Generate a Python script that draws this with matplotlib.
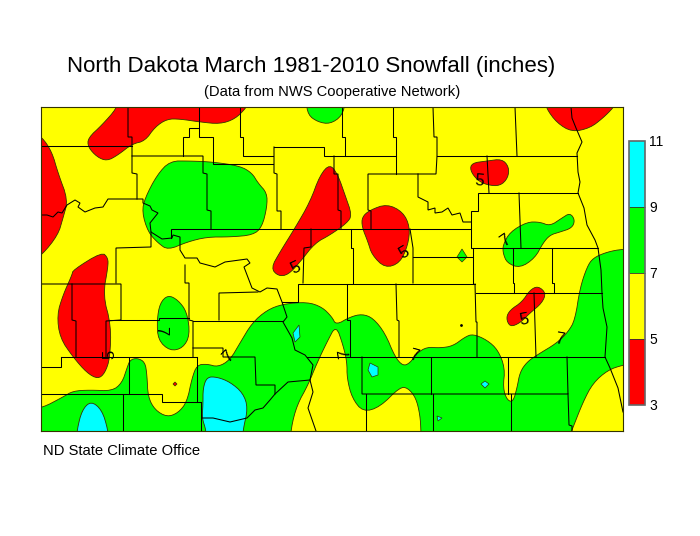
import matplotlib
matplotlib.use('Agg')
import matplotlib.pyplot as plt
from matplotlib.cm import ScalarMappable
from matplotlib.colors import BoundaryNorm, ListedColormap
from matplotlib.patches import Polygon

plt.rcParams['font.family'] = ['Liberation Sans', 'DejaVu Sans']

RED, YELLOW, GREEN, CYAN = '#ff0000', '#ffff00', '#00ff00', '#00ffff'
levels = [3, 5, 7, 9, 11]
level_colors = [RED, YELLOW, GREEN, CYAN]

# snowfall areas, map coordinates
green_south = [(30, 408), (42, 408), (63, 397), (73, 391), (90, 390), (112, 391), (122, 383), (127, 368),
               (130, 360), (137, 358), (145, 362), (147, 375), (148, 397), (155, 410), (167, 417), (178, 413),
               (187, 402), (192, 378), (197, 365), (207, 364), (218, 367), (230, 360), (240, 343), (252, 323),
               (267, 310), (283, 304), (307, 302), (322, 307), (332, 317), (336, 325), (350, 317), (362, 314),
               (373, 318), (385, 333), (395, 357), (403, 366), (410, 363), (417, 353), (427, 347), (440, 348),
               (453, 346), (465, 337), (473, 334), (487, 340), (498, 350), (505, 368), (503, 388), (507, 400),
               (513, 402), (517, 388), (520, 372), (527, 362), (537, 355), (557, 343), (568, 332), (575, 320),
               (580, 288), (587, 267), (593, 258), (607, 252), (623, 249), (650, 249), (655, 260), (655, 435),
               (650, 445), (630, 445), (560, 445), (60, 445), (30, 445), (20, 440), (20, 415)]
yellow_tongue = [(336, 325), (327, 342), (317, 363), (308, 385), (297, 405), (291, 428), (290, 450), (421, 450),
                 (421, 431), (420, 415), (416, 398), (408, 388), (400, 387), (380, 407), (363, 412), (352, 398),
                 (347, 378), (347, 362), (343, 345)]
yellow_southeast = [(572, 430), (583, 402), (593, 383), (608, 370), (623, 365), (640, 362), (650, 445), (566, 445)]
green_northwest = [(145, 198), (157, 175), (170, 161), (190, 161), (213, 162), (240, 166), (252, 173), (258, 183),
                   (267, 193), (267, 207), (262, 227), (253, 235), (230, 237), (207, 237), (187, 242), (168, 250),
                   (158, 243), (148, 232), (142, 212)]
green_west = [(168, 295), (160, 303), (157, 320), (158, 340), (170, 351), (183, 348), (190, 335), (187, 312),
              (178, 300)]
green_northeast = [(503, 245), (510, 232), (527, 222), (540, 222), (550, 226), (562, 218), (570, 213), (575, 220),
                   (572, 228), (560, 232), (550, 235), (543, 243), (535, 258), (520, 268), (507, 263), (503, 253)]
green_top = [(306, 100), (308, 115), (318, 122), (330, 124), (342, 116), (346, 100)]
green_small = [(462, 249), (457, 257), (462, 262), (467, 257)]
red_north = [(117, 100), (117, 108), (102, 125), (88, 138), (88, 147), (97, 157), (107, 161), (118, 155),
             (132, 144), (145, 141), (155, 127), (167, 119), (180, 119), (200, 122), (220, 124), (235, 119),
             (246, 108), (250, 100)]
red_westedge = [(30, 130), (42, 137), (52, 152), (58, 173), (68, 200), (63, 218), (58, 235), (42, 255), (30, 262)]
red_ridge = [(330, 164), (320, 175), (310, 202), (295, 228), (280, 252), (271, 268), (278, 276), (288, 275),
             (300, 262), (315, 243), (330, 235), (347, 223), (352, 215), (345, 195), (338, 175)]
red_center = [(387, 204), (370, 210), (362, 217), (362, 227), (368, 242), (372, 255), (385, 268), (400, 263),
              (408, 245), (410, 227), (403, 212)]
red_northeast = [(546, 100), (546, 108), (557, 123), (572, 132), (590, 128), (603, 118), (613, 108), (618, 100)]
red_langdon = [(470, 170), (472, 163), (487, 161), (502, 159), (509, 167), (508, 178), (500, 186), (487, 185),
               (477, 180)]
red_southwest = [(102, 252), (73, 270), (72, 275), (63, 295), (57, 315), (60, 338), (73, 357), (87, 373), (98, 379),
                 (105, 373), (110, 358), (111, 325), (103, 295), (108, 267), (108, 258)]
red_east = [(538, 286), (530, 290), (522, 302), (510, 310), (506, 318), (510, 327), (520, 323), (530, 313),
            (542, 303), (546, 293)]
red_dot = [(175, 382), (173, 384), (175, 386), (177, 384)]
cyan_southwest = [(77, 440), (77, 430), (82, 410), (91, 401), (102, 410), (108, 430), (108, 440)]
cyan_south = [(207, 377), (203, 388), (203, 405), (202, 418), (206, 430), (206, 440), (243, 440), (243, 430),
              (248, 408), (243, 393), (230, 382), (217, 377)]
cyan_a = [(299, 325), (293, 333), (295, 342), (300, 337)]
cyan_b = [(370, 363), (378, 367), (378, 375), (372, 377), (368, 370)]
cyan_c = [(485, 381), (481, 384), (485, 388), (489, 384)]
cyan_d = [(437, 416), (442, 418), (438, 421)]

smooth_areas = [(green_south, GREEN), (yellow_tongue, YELLOW), (yellow_southeast, YELLOW),
                (green_northwest, GREEN), (green_west, GREEN), (green_northeast, GREEN), (green_top, GREEN),
                (red_north, RED), (red_westedge, RED), (red_ridge, RED), (red_center, RED), (red_northeast, RED),
                (red_langdon, RED), (red_southwest, RED), (red_east, RED), (cyan_southwest, CYAN), (cyan_south, CYAN)]
small_areas = [(green_small, GREEN), (red_dot, RED), (cyan_a, CYAN), (cyan_b, CYAN), (cyan_c, CYAN), (cyan_d, CYAN)]

# county lines and rivers
county_lines = [
    [(42, 146), (132, 146)],
    [(128, 107), (128, 137), (132, 137), (132, 173), (137, 174), (137, 199)],
    [(132, 156), (203, 156), (203, 173), (207, 174), (207, 210), (211, 211), (211, 229)],
    [(183, 156), (183, 137), (189, 137), (189, 128), (199, 128)],
    [(199, 107), (199, 137), (213, 137), (213, 164), (273, 164)],
    [(240, 107), (240, 137), (243, 137), (243, 156), (273, 156)],
    [(274, 147), (274, 173), (277, 174), (277, 211), (281, 211), (281, 229)],
    [(274, 147), (324, 147), (324, 156), (396, 156)],
    [(334, 156), (334, 174), (338, 174), (338, 210), (341, 211), (341, 229)],
    [(342, 107), (342, 137), (345, 137), (345, 156)],
    [(393, 107), (393, 137), (396, 137), (396, 174)],
    [(433, 107), (434, 137), (437, 137), (437, 156), (436, 174), (368, 174), (368, 210), (371, 211), (371, 229)],
    [(437, 156), (577, 156)],
    [(515, 107), (517, 156)],
    [(487, 156), (489, 193)],
    [(578, 193), (478, 193), (478, 211), (471, 211), (471, 248), (598, 248)],
    [(418, 174), (418, 197), (428, 202), (428, 210), (435, 208), (435, 213), (442, 212), (448, 208), (452, 215),
     (460, 213), (463, 222), (471, 222)],
    [(519, 193), (521, 248)],
    [(473, 248), (473, 284)],
    [(513, 248), (513, 283), (514, 283), (514, 293)],
    [(552, 248), (552, 283), (554, 283), (554, 293)],
    [(413, 257), (473, 257)],
    [(410, 229), (413, 248), (413, 283)],
    [(351, 229), (351, 248), (353, 248), (353, 283)],
    [(171, 238), (171, 229), (471, 229)],
    [(311, 229), (311, 247), (304, 248), (303, 283)],
    [(282, 302), (298, 302), (298, 284), (475, 284)],
    [(347, 284), (347, 320), (350, 320), (350, 357)],
    [(396, 284), (397, 320), (399, 321), (399, 357)],
    [(475, 284), (476, 322), (477, 322), (477, 357)],
    [(476, 293), (602, 293)],
    [(534, 293), (536, 357)],
    [(61, 357), (197, 357)],
    [(307, 357), (605, 357)],
    [(362, 357), (362, 394), (568, 394), (567, 357)],
    [(431, 357), (431, 394)],
    [(508, 357), (508, 394)],
    [(366, 394), (366, 431)],
    [(433, 394), (433, 431)],
    [(511, 394), (511, 431)],
    [(568, 394), (569, 425), (572, 426), (572, 431)],
    [(571, 107), (572, 118), (576, 128), (582, 142), (577, 153), (578, 172), (580, 182), (578, 193), (584, 208),
     (587, 225), (595, 240), (598, 248), (601, 270), (602, 293), (603, 308), (607, 327), (605, 357), (610, 368),
     (618, 388), (623, 412)],
    [(42, 215), (47, 215), (53, 217), (58, 212), (62, 213), (67, 205), (75, 200), (80, 203), (78, 207), (85, 212),
     (95, 208), (103, 207), (108, 199), (143, 199), (143, 203), (150, 206), (152, 210), (158, 213), (150, 223),
     (151, 232), (162, 239), (172, 238), (173, 235), (180, 237), (180, 250), (185, 258), (197, 258), (200, 263),
     (215, 267), (225, 262), (247, 259), (250, 263), (244, 267), (252, 288), (260, 292), (267, 288), (277, 289),
     (282, 302), (287, 317), (283, 322), (292, 338), (295, 350), (305, 355), (313, 365), (310, 380), (313, 392),
     (308, 408), (316, 431)],
    [(310, 380), (288, 382), (275, 394), (270, 400), (263, 408), (255, 410), (247, 418), (230, 422), (213, 418),
     (202, 418)],
    [(151, 232), (151, 247), (116, 248), (116, 283)],
    [(42, 284), (121, 284), (121, 320), (106, 321), (106, 357)],
    [(72, 284), (72, 320), (76, 321), (76, 357)],
    [(42, 367), (61, 367), (61, 357)],
    [(42, 394), (162, 394), (162, 402), (200, 402)],
    [(129, 358), (129, 394)],
    [(123, 394), (123, 431)],
    [(197, 357), (197, 402)],
    [(201, 402), (201, 431)],
    [(110, 320), (159, 320), (159, 318), (189, 318)],
    [(185, 265), (185, 283), (189, 283), (189, 320), (193, 321), (193, 357)],
    [(193, 321), (283, 321)],
    [(219, 320), (219, 293), (258, 292)],
    [(193, 348), (223, 348), (223, 357), (255, 357), (256, 385), (275, 385), (275, 394)],
]

# hand drawn contour labels: text, x, y, rotation
contour_labels = [('5', 296, 268, 25), ('5', 404, 253, 30), ('5', 479, 181, -5), ('5', 524, 320, 10),
                  ('5', 110, 354, 90), ('7', 505, 241, 35), ('7', 161, 331, -90), ('7', 228, 357, 45),
                  ('7', 345, 353, 100), ('7', 414, 356, -15), ('7', 559, 339, -10)]
dots = [(461, 325)]


def chaikin(points, rounds=2):
    # corner cutting so the contours come out round
    for _ in range(rounds):
        new = []
        for i, (x0, y0) in enumerate(points):
            x1, y1 = points[(i + 1) % len(points)]
            new.append((0.75 * x0 + 0.25 * x1, 0.75 * y0 + 0.25 * y1))
            new.append((0.25 * x0 + 0.75 * x1, 0.25 * y0 + 0.75 * y1))
        points = new
    return points


fig = plt.figure(figsize=(7, 5.36), dpi=100)
ax = fig.add_axes([41 / 700, 1 - 431 / 536, 582 / 700, 324 / 536])
ax.set_xlim(41, 623)
ax.set_ylim(431, 107)
ax.set_facecolor(YELLOW)
ax.set_xticks([])
ax.set_yticks([])
for spine in ax.spines.values():
    spine.set_linewidth(0.8)
    spine.set_color('#333300')

for pts, col in smooth_areas:
    ax.add_patch(Polygon(chaikin(pts), closed=True, facecolor=col, edgecolor='#333300', linewidth=0.6))
for pts, col in small_areas:
    ax.add_patch(Polygon(pts, closed=True, facecolor=col, edgecolor='#333300', linewidth=0.5))

for line in county_lines:
    ax.plot([p[0] for p in line], [p[1] for p in line], color='black', linewidth=0.75, solid_joinstyle='miter')
ax.plot([p[0] for p in dots], [p[1] for p in dots], 'o', color='black', markersize=1)

for label, x, y, rot in contour_labels:
    ax.text(x, y, label, fontsize=12, rotation=rot, ha='center', va='center', color='black')

cax = fig.add_axes([629 / 700, 1 - 405 / 536, 16 / 700, 264 / 536])
cmap = ListedColormap(level_colors)
norm = BoundaryNorm(levels, cmap.N)
cbar = fig.colorbar(ScalarMappable(norm=norm, cmap=cmap), cax=cax, ticks=levels, drawedges=True)
cbar.ax.tick_params(length=0, labelsize=10, pad=3)
cbar.outline.set_linewidth(1.2)
cbar.outline.set_edgecolor('#666666')
cbar.dividers.set_linewidth(0.6)
cbar.dividers.set_color('#333333')

fig.text(67 / 700, 1 - 72 / 536, 'North Dakota March 1981-2010 Snowfall (inches)', fontsize=16.05, color='black')
fig.text(204 / 700, 1 - 96 / 536, '(Data from NWS Cooperative Network)', fontsize=10.65, color='black')
fig.text(43 / 700, 1 - 455 / 536, 'ND State Climate Office', fontsize=10.6, color='black')

fig.savefig('out.png', dpi=100)
